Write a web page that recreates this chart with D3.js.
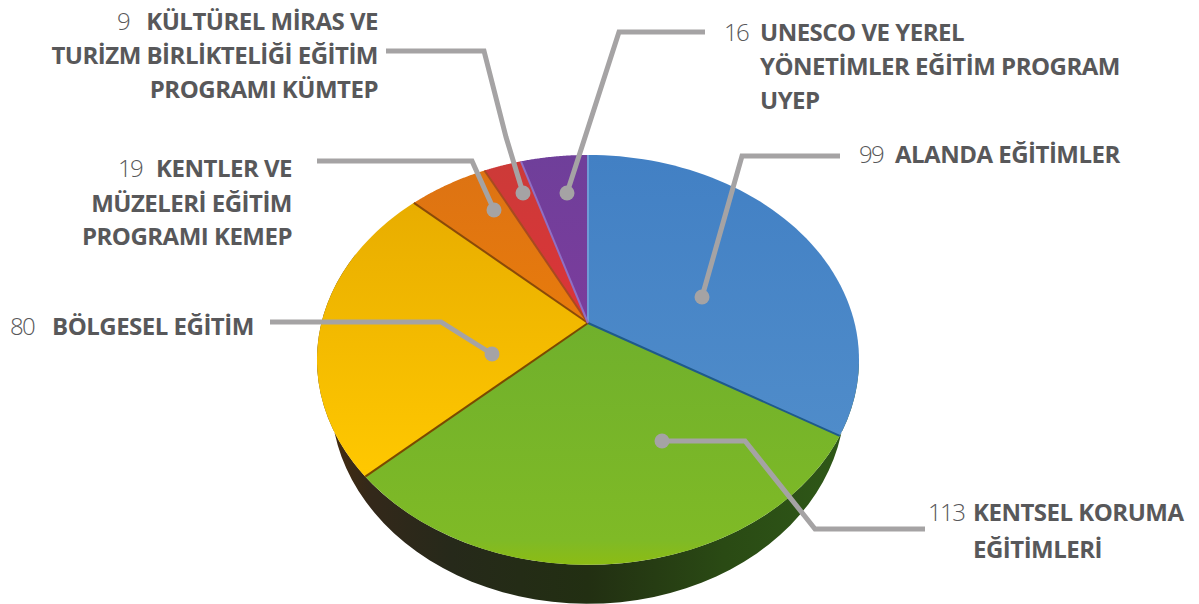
<!DOCTYPE html>
<html>
<head>
<meta charset="utf-8">
<script src="https://d3js.org/d3.v7.min.js"></script>
<style>
  html, body { margin: 0; padding: 0; background: #fff; }
  text { font-family: "Open Sans", sans-serif; fill: #58585a; }
</style>
</head>
<body>
<div id="chart"></div>
<script>
// slices go clockwise from the top. the drawn wedges for the first two are sized
// 113 then 99 in the picture, while the printed labels say 99 then 113
const sliceNames = ["Alanda", "Kentsel", "Bolgesel", "Kemep", "Kumtep", "Uyep"];
const sliceValues = [113, 99, 80, 19, 9, 16];
const labelNumbers = ["99", "113", "80", "19", "9", "16"];
const labelLines = [
  ["ALANDA EĞİTİMLER"],
  ["KENTSEL KORUMA", "EĞİTİMLERİ"],
  ["BÖLGESEL EĞİTİM"],
  ["KENTLER VE", "MÜZELERİ EĞİTİM", "PROGRAMI KEMEP"],
  ["KÜLTÜREL MİRAS VE", "TURİZM BİRLİKTELİĞİ EĞİTİM", "PROGRAMI KÜMTEP"],
  ["UNESCO VE YEREL", "YÖNETİMLER EĞİTİM PROGRAM", "UYEP"]
];

// layout of the page, separate from the values
const width = 1199, height = 604;
const labelLayout = [
  { anchor: "start", x: 895, ys: [163], numX: 859, numY: 163 },
  { anchor: "start", x: 973, ys: [521, 558], numX: 928, numY: 521 },
  { anchor: "start", x: 52, ys: [335], numX: 10, numY: 335 },
  { anchor: "end", x: 292, ys: [177, 212, 245], numX: 118, numY: 177 },
  { anchor: "end", x: 378, ys: [30, 64, 98], numX: 117, numY: 30 },
  { anchor: "start", x: 760, ys: [41, 75, 109], numX: 724, numY: 41 }
];
const leaders = [
  [[840, 156], [742, 156], [702, 297]],
  [[925, 529], [815, 529], [745, 441], [662, 441]],
  [[270, 322], [441, 322], [492, 354]],
  [[317, 161], [472, 161], [494, 210]],
  [[386, 51], [484, 51], [506, 137], [523, 193]],
  [[705, 32], [619, 32], [567, 193]]
];

const svg = d3.select("#chart").append("svg")
  .attr("width", width)
  .attr("height", height)
  .style("display", "block");

const defs = svg.append("defs");

function gradient(id, x1, y1, x2, y2, stops) {
  const g = defs.append("linearGradient").attr("id", id)
    .attr("x1", x1).attr("y1", y1).attr("x2", x2).attr("y2", y2);
  stops.forEach(s => g.append("stop").attr("offset", s[0]).attr("stop-color", s[1]));
}
gradient("blue", 0, 0, 0, 1, [[0, "#4280c4"], [1, "#4f8cca"]]);
gradient("green", 0, 0, 0, 1, [[0, "#70b02c"], [0.9, "#7fba26"], [1, "#8cbc14"]]);
gradient("yellow", 0, 0, 0, 1, [[0, "#e8ad00"], [1, "#ffc800"]]);
gradient("orange", 0, 0, 0, 1, [[0, "#dd7313"], [1, "#e87b0c"]]);
gradient("red", 0, 0, 0, 1, [[0, "#cc3a38"], [1, "#dc3438"]]);
gradient("purple", 0, 0, 0, 1, [[0, "#6f3f9a"], [1, "#7b3c9c"]]);
gradient("side", 0, 0, 1, 0, [[0, "#4a2d0c"], [0.1, "#33281a"], [0.25, "#26291a"], [0.5, "#222f12"], [0.75, "#2a4a14"], [1, "#2f5a18"]]);

const sliceFills = ["url(#blue)", "url(#green)", "url(#yellow)", "url(#orange)", "url(#red)", "url(#purple)"];
const edgeColors = ["#6f9bd6", "#1f5a8a", "#7a4a00", "#8a4a08", "#a84a20", "#8f6fc4"];

// the disc is seen in perspective, so the hub sits above the middle of the ellipse
const hub = { x: 588, y: 323 };
const tilt = 0.18;
const sx = d3.scaleLinear().domain([-1, 1]).range([hub.x - 266.6, hub.x + 266.6]);
const sy = d3.scaleLinear().domain([-1, 1]).range([hub.y - 198.3, hub.y + 198.3]);

function project(angle) {
  const X = Math.sin(angle), Y = -Math.cos(angle);
  const w = 1 - tilt * Y;
  return [sx(X / w), sy(Y / w)];
}

function arcPoints(a0, a1) {
  return d3.range(0, 1.0001, 1 / 60).map(t => project(a0 + (a1 - a0) * t));
}

const line = d3.line();
const arcs = d3.pie().sort(null).value(d => d)(sliceValues);

// thickness: the same rim moved down and drawn in
const drop = 39, shrink = 0.948;
const lower = p => [hub.x + (p[0] - hub.x) * shrink, p[1] + drop];
const sideStart = Math.PI * 0.56, sideEnd = Math.PI * 1.62;
const rim = arcPoints(sideStart, sideEnd);
const under = rim.map(lower).reverse();
svg.append("path")
  .attr("d", line(rim.concat(under)) + "Z")
  .attr("fill", "url(#side)");

svg.selectAll(".slice")
  .data(arcs)
  .enter()
  .append("path")
  .attr("class", "slice")
  .attr("d", d => line([[hub.x, hub.y]].concat(arcPoints(d.startAngle, d.endAngle))) + "Z")
  .attr("fill", (d, i) => sliceFills[i])
  .attr("data-name", (d, i) => sliceNames[i]);

// dark crease on the wedge borders
svg.selectAll(".edge")
  .data(arcs)
  .enter()
  .append("path")
  .attr("class", "edge")
  .attr("d", d => line([[hub.x, hub.y], project(d.startAngle)]))
  .attr("stroke", (d, i) => edgeColors[i])
  .attr("stroke-width", 2)
  .attr("fill", "none");

svg.selectAll(".leader")
  .data(leaders)
  .enter()
  .append("path")
  .attr("class", "leader")
  .attr("d", d => line(d))
  .attr("fill", "none")
  .attr("stroke", "#a5a3a4")
  .attr("stroke-width", 5);

svg.selectAll(".dot")
  .data(leaders)
  .enter()
  .append("circle")
  .attr("class", "dot")
  .attr("cx", d => d[d.length - 1][0])
  .attr("cy", d => d[d.length - 1][1])
  .attr("r", 7.5)
  .attr("fill", "#a5a3a4");

labelLines.forEach((lines, i) => {
  const l = labelLayout[i];
  svg.append("text")
    .attr("x", l.numX)
    .attr("y", l.numY)
    .attr("font-size", 24)
    .attr("font-weight", 300)
    .attr("letter-spacing", -1.6)
    .text(labelNumbers[i]);
  lines.forEach((t, j) => {
    svg.append("text")
      .attr("x", l.x)
      .attr("y", l.ys[j])
      .attr("text-anchor", l.anchor)
      .attr("font-size", 24)
      .attr("font-weight", 700)
      .attr("letter-spacing", -0.5)
      .text(t);
  });
});
</script>
</body>
</html>
